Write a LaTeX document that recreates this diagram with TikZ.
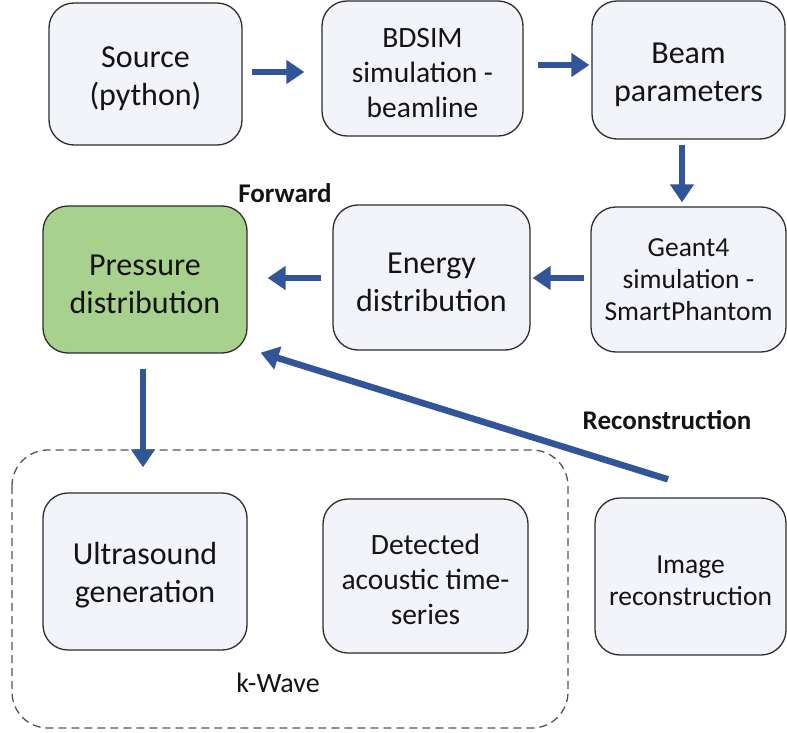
\documentclass[tikz,border=0pt]{standalone}
\usepackage{fontspec}
\setmainfont{Carlito}
\usetikzlibrary{arrows.meta,calc}
\definecolor{boxfill}{RGB}{242,244,250}
\definecolor{boxline}{RGB}{45,45,45}
\definecolor{greenfill}{RGB}{169,209,142}
\definecolor{arrowblue}{RGB}{50,84,152}
\definecolor{dashgray}{RGB}{85,85,85}
\definecolor{txt}{RGB}{20,20,20}
\newcommand\firststrut{\rule{0pt}{0.95em}}
\begin{document}
\begin{tikzpicture}[x=1pt,y=-1pt,
  box/.style={draw=boxline, line width=1.3pt, fill=boxfill, rounded corners=25pt,
    align=center, inner sep=0pt, text=txt, font=\fontsize{32}{38}\selectfont},
  smalltext/.style={font=\fontsize{27.5}{32}\selectfont},
  midtext/.style={font=\fontsize{29.5}{35}\selectfont},
  flow/.style={draw=arrowblue, line width=6.5pt, -{Triangle[width=23pt,length=18pt]}},
  lbl/.style={text=txt, inner sep=0pt, font=\fontsize{27}{32}\selectfont\bfseries},
  group/.style={draw=dashgray, line width=1.3pt, dash pattern=on 8pt off 5pt, rounded corners=36pt}]
\useasboundingbox (0,0) rectangle (787,733);
\fill[white] (0,0) rectangle (787,733);

% dashed k-Wave group
\draw[group] (12,450) rectangle (568,728);

% boxes
\node[box, minimum width=193pt, minimum height=142pt] (src) at (145.5,74) {\firststrut Source\\(python)};
\node[box, midtext, minimum width=201pt, minimum height=135pt] (bdsim) at (422.5,68.5) {\firststrut BDSIM\\simulation -\\beamline};
\node[box, minimum width=193pt, minimum height=138pt] (beam) at (688.5,70) {\firststrut Beam\\parameters};
\node[box, smalltext, minimum width=195pt, minimum height=145pt] (geant) at (688.5,279.5) {Geant4\\simulation -\\SmartPhantom};
\node[box, minimum width=197pt, minimum height=145pt] (energy) at (431.5,277.5) {\firststrut Energy\\distribution};
\node[box, fill=greenfill, minimum width=204pt, minimum height=147pt] (pressure) at (145,279.5) {\firststrut Pressure\\distribution};
\node[box, minimum width=204pt, minimum height=157pt] (ultra) at (145,571.5) {\firststrut Ultrasound\\generation};
\node[box, midtext, minimum width=205pt, minimum height=154pt] (detect) at (425.5,576) {\firststrut Detected\\acoustic time-\\series};
\node[box, smalltext, minimum width=191pt, minimum height=157pt] (imrec) at (690.5,576.5) {\firststrut Image\\reconstruction};

% labels
\node[lbl] (fwd) at (285,193) {Forward};
\node[lbl] (rec) at (667,420) {Reconstruction};
\node[text=txt, inner sep=0pt, font=\fontsize{28}{33}\selectfont] (kwave) at (278,683) {k-Wave};

% arrows
\coordinate (a1) at ($(src.east)+(9,-2)$);
\draw[flow, shorten >=17pt] (a1) -- (a1 -| bdsim.west);
\coordinate (a2) at ($(bdsim.east)+(14,-3.5)$);
\draw[flow, shorten >=2pt] (a2) -- (a2 -| beam.west);
\coordinate (a3) at ($(beam.south)+(-6.5,5)$);
\draw[flow, shorten >=4pt] (a3) -- (a3 |- geant.north);
\coordinate (a4) at ($(geant.west)+(-6,-1.5)$);
\draw[flow, shorten >=2pt] (a4) -- (a4 -| energy.east);
\coordinate (a5) at ($(energy.west)+(-11,0.5)$);
\draw[flow, shorten >=20pt] (a5) -- (a5 -| pressure.east);
\coordinate (a6) at ($(pressure.south)+(-2,15)$);
\draw[flow, shorten >=25pt] (a6) -- (a6 |- ultra.north);
\coordinate (rtail) at ($(imrec.north)+(-22.5,-18)$);
\coordinate (rtip) at ($(pressure.south east)+(13,-1)$);
\draw[flow] (rtail) -- (rtip);
\end{tikzpicture}
\end{document}
